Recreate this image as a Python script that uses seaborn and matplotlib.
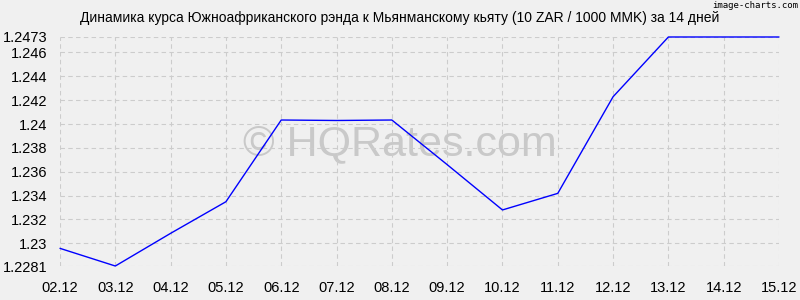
import matplotlib
matplotlib.use("Agg")
import matplotlib.pyplot as plt
import seaborn as sns
import pandas as pd

dates = ["02.12", "03.12", "04.12", "05.12", "06.12", "07.12", "08.12",
         "09.12", "10.12", "11.12", "12.12", "13.12", "14.12", "15.12"]
rates = [1.22958, 1.2281, 1.23084, 1.23349, 1.24034, 1.24030, 1.24034,
         1.23660, 1.23280, 1.23419, 1.24229, 1.2473, 1.2473, 1.2473]
y_ticks = [1.2281, 1.23, 1.232, 1.234, 1.236, 1.238, 1.24, 1.242, 1.244, 1.246, 1.2473]
y_labels = ["1.2281", "1.23", "1.232", "1.234", "1.236", "1.238", "1.24",
            "1.242", "1.244", "1.246", "1.2473"]
title = "Динамика курса Южноафриканского рэнда к Мьянманскому кьяту (10 ZAR / 1000 MMK) за 14 дней"

sns.set_style("white", {"axes.facecolor": "#f0f0f0", "figure.facecolor": "#f0f0f0"})
plt.rcParams['font.family'] = ['Liberation Sans', 'DejaVu Sans']

df = pd.DataFrame({"idx": range(len(dates)), "rate": rates})

fig = plt.figure(figsize=(8, 3), dpi=100, facecolor="#f0f0f0")
ax = fig.add_axes([0.075, 0.1133, 0.89875, 0.7634])
ax.set_facecolor("#f0f0f0")

sns.lineplot(data=df, x="idx", y="rate", ax=ax, color="#0000ff", linewidth=1.0)
for ln in ax.get_lines():
    ln.set_clip_on(False)

ax.set_xlim(0, len(dates) - 1)
ax.set_ylim(1.2281, 1.2473)
ax.set_xticks(range(len(dates)))
ax.set_xticklabels(dates)
ax.set_yticks(y_ticks)
ax.set_yticklabels(y_labels)
ax.tick_params(axis="both", length=0, labelsize=10.5, colors="#000000")
ax.tick_params(axis="x", pad=11)
ax.tick_params(axis="y", pad=9)
ax.grid(True, color="#cccccc", linestyle=(0, (4, 3)), linewidth=0.8)
ax.set_axisbelow(True)
for s in ax.spines.values():
    s.set_visible(False)
ax.set_xlabel("")
ax.set_ylabel("")

fig.text(0.5, 0.94, title, ha="center", va="center", fontsize=10, color="#000000")
fig.text(0.998, 0.995, "image-charts.com", ha="right", va="top", fontsize=6.5,
         family=["DejaVu Sans Mono"], color="#000000")
ax.text(0.5, 0.52, "© HQRates.com", transform=fig.transFigure, ha="center", va="center",
        fontsize=31, color="#b4b4b4", alpha=0.65, zorder=0)

fig.savefig("out.png", dpi=100, facecolor="#f0f0f0")
